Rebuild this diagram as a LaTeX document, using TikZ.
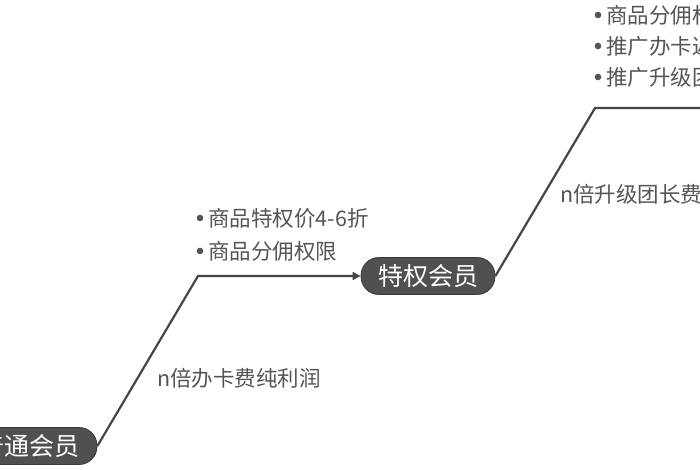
\documentclass[tikz,border=0pt]{standalone}
\usepackage{fontspec}
\setmainfont{Noto Sans CJK SC}
\usetikzlibrary{arrows.meta}
\definecolor{pillgray}{HTML}{505050}
\definecolor{linegray}{HTML}{464646}
\definecolor{txtgray}{HTML}{555555}
\begin{document}
\begin{tikzpicture}[x=1pt,y=-1pt,
  pill/.style={rectangle, rounded corners=18pt, fill=pillgray, draw=pillgray!70!black,
    line width=0.8pt, text=white, font=\fontsize{25}{25}\selectfont,
    minimum height=37pt, inner xsep=17pt, inner ysep=0pt},
  conn/.style={draw=linegray, line width=2.2pt},
  lbl/.style={text=txtgray, font=\fontsize{21.5}{22}\selectfont, anchor=west, inner sep=0pt},
  dot/.style={fill=txtgray}
]
\useasboundingbox (0,0) rectangle (700,470);
\clip (0,0) rectangle (700,470);
\fill[white] (0,0) rectangle (700,470);

% nodes
\node[pill] (n1) at (30,446) {普通会员};
\node[pill] (n2) at (428,276) {特权会员};
\coordinate (c1) at (198,276);
\coordinate (c2) at (595,108);
\coordinate (e2) at (780,108);

% connectors
\draw[conn,-{Triangle[length=8pt,width=8pt]}] (n1.east) -- (c1) -- (n2.west);
\draw[conn] (n2.east) -- (c2) -- (e2);

% edge labels
\node[lbl] (l1) at (157,378) {n倍办卡费纯利润};
\node[lbl] (l2) at (560,194) {n倍升级团长费纯利润};

% bullets for 特权会员
\fill[dot] (200,218) circle (3.3);
\node[lbl] (b1) at (208,218) {商品特权价4-6折};
\fill[dot] (200,251) circle (3.3);
\node[lbl] (b2) at (208,251) {商品分佣权限};

% bullets for next level
\fill[dot] (598,15) circle (3.3);
\node[lbl] (t1) at (606,15) {商品分佣权限};
\fill[dot] (598,46) circle (3.3);
\node[lbl] (t2) at (606,46) {推广办卡返佣};
\fill[dot] (598,77) circle (3.3);
\node[lbl] (t3) at (606,77) {推广升级团长返佣};
\end{tikzpicture}
\end{document}
